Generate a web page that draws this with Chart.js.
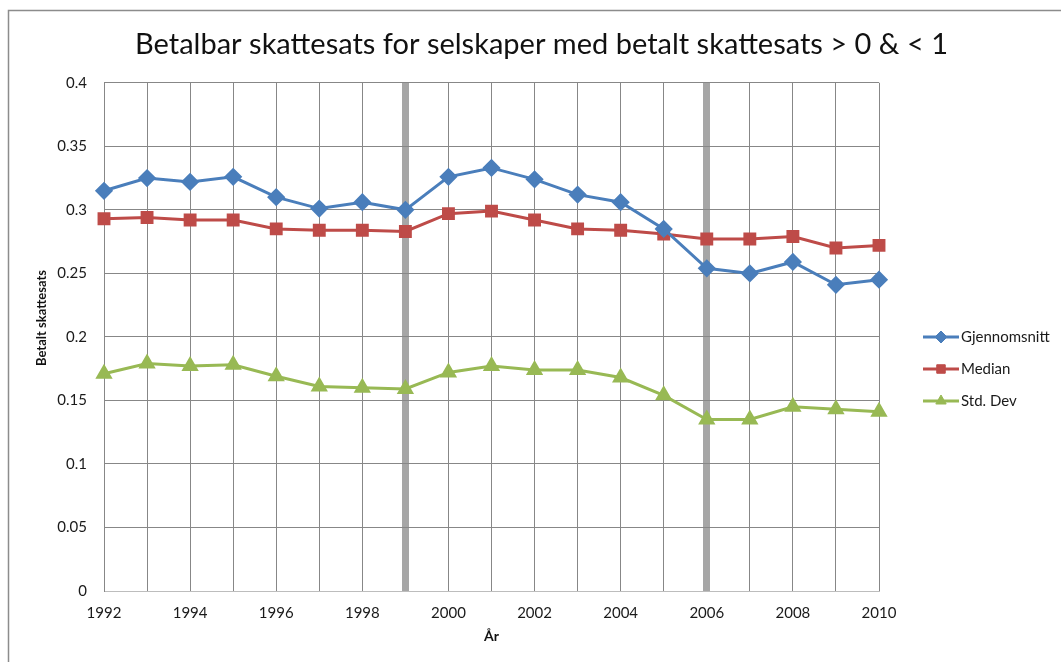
<!DOCTYPE html>
<html>
<head>
<meta charset="utf-8">
<script src="https://cdn.jsdelivr.net/npm/chart.js@4"></script>
<style>
  html, body { margin: 0; padding: 0; background: #fff; }
  #wrap { width: 1061px; height: 662px; position: relative; }
</style>
</head>
<body>
<div id="wrap"><canvas id="taxChart"></canvas></div>
<script>
const years = ['1992','1993','1994','1995','1996','1997','1998','1999','2000','2001',
               '2002','2003','2004','2005','2006','2007','2008','2009','2010'];
const gjennomsnitt = [0.315,0.325,0.322,0.326,0.310,0.301,0.306,0.300,0.326,0.333,
                      0.324,0.312,0.306,0.285,0.254,0.250,0.259,0.241,0.245];
const median = [0.293,0.294,0.292,0.292,0.285,0.284,0.284,0.283,0.297,0.299,
                0.292,0.285,0.284,0.281,0.277,0.277,0.279,0.270,0.272];
const stdDev = [0.171,0.179,0.177,0.178,0.169,0.161,0.160,0.159,0.172,0.177,
                0.174,0.174,0.168,0.154,0.135,0.135,0.145,0.143,0.141];
const markedYears = ['1999','2006'];
const yTicks = [0,0.05,0.1,0.15,0.2,0.25,0.3,0.35,0.4];
const yTitle = 'Betalt skattesats';

const font = 'Lato, "Open Sans", sans-serif';
const gridGray = '#878787';

// outer frame, y title and a legend drawn like the spreadsheet one (line + marker)
const framePlugin = {
  id: 'frame',
  beforeDraw(chart) {
    const c = chart.ctx;
    c.save();
    c.strokeStyle = '#8c8c8c';
    c.lineWidth = 1.5;
    c.strokeRect(8.5, 10.5, 1200, 800);
    c.restore();
  },
  afterDraw(chart) {
    const c = chart.ctx;
    c.save();
    c.translate(42, 318);
    c.rotate(-Math.PI / 2);
    c.fillStyle = '#111';
    c.font = 'bold 13px ' + font;
    c.textAlign = 'center';
    c.textBaseline = 'middle';
    c.fillText(yTitle, 0, 0);
    c.restore();
  }
};

const sideLegend = {
  id: 'sideLegend',
  afterDraw(chart) {
    const c = chart.ctx;
    const rows = [337, 369, 401];
    c.save();
    chart.data.datasets.forEach((ds, i) => {
      const y = rows[i];
      c.strokeStyle = ds.borderColor;
      c.fillStyle = ds.borderColor;
      c.lineWidth = 3;
      c.beginPath();
      c.moveTo(923, y);
      c.lineTo(959, y);
      c.stroke();
      c.lineWidth = 1;
      Chart.helpers.drawPoint(c, {
        pointStyle: ds.pointStyle,
        radius: ds.pointRadius - 1,
        borderWidth: 1,
        rotation: 0
      }, 941, y);
      c.fillStyle = '#1a1a1a';
      c.font = '15px ' + font;
      c.textBaseline = 'middle';
      c.fillText(ds.label, 961, y);
    });
    c.restore();
  }
};

function series(label, data, color, style, r) {
  return {
    label: label,
    data: data,
    borderColor: color,
    backgroundColor: color,
    pointBackgroundColor: color,
    pointBorderColor: color,
    pointStyle: style,
    pointRadius: r,
    pointHoverRadius: r,
    borderWidth: 3,
    tension: 0,
    fill: false,
    yAxisID: 'y'
  };
}

const ctx = document.getElementById('taxChart');
new Chart(ctx, {
  type: 'line',
  data: {
    labels: years,
    datasets: [
      series('Gjennomsnitt', gjennomsnitt, '#4a7ebb', 'rectRot', 7),
      series('Median', median, '#be4b48', 'rect', 7),
      series('Std. Dev', stdDev, '#98b954', 'triangle', 7)
    ]
  },
  options: {
    responsive: true,
    maintainAspectRatio: false,
    animation: false,
    layout: { padding: { left: 22, right: 0, top: 0, bottom: 0 } },
    plugins: {
      legend: { display: false },
      tooltip: { enabled: false },
      title: {
        display: true,
        text: 'Betalbar skattesats for selskaper med betalt skattesats > 0 & < 1',
        color: '#111',
        font: { family: font, size: 29, weight: 'normal', lineHeight: 1.2 },
        padding: { top: 27, bottom: 21 }
      }
    },
    scales: {
      x: {
        offset: false,
        grid: {
          drawTicks: false,
          color: c => markedYears.includes(years[c.index]) ? '#a6a6a6' : gridGray,
          lineWidth: c => markedYears.includes(years[c.index]) ? 7 : 1
        },
        border: { color: '#bdbdbd', width: 1 },
        ticks: {
          autoSkip: false,
          maxRotation: 0,
          padding: 13,
          color: '#1a1a1a',
          font: { family: font, size: 15 },
          callback: (v, i) => i % 2 === 0 ? years[i] : ''
        },
        title: {
          display: true,
          text: 'År',
          color: '#111',
          font: { family: font, size: 14, weight: 'bold' },
          padding: { top: 6, bottom: 17 }
        },
        afterFit: s => { s.height = 71; }
      },
      y: {
        min: 0,
        max: 0.4,
        afterBuildTicks: s => { s.ticks = yTicks.map(v => ({ value: v })); },
        grid: { drawTicks: false, color: gridGray, lineWidth: 1 },
        border: { color: gridGray, width: 1 },
        ticks: {
          padding: 17,
          color: '#1a1a1a',
          font: { family: font, size: 15 },
          callback: v => String(+v.toFixed(2))
        },
        afterFit: s => { s.width = 82; }
      },
      // empty right-hand axis that reserves the legend's room
      side: {
        position: 'right',
        display: true,
        grid: { display: false, drawTicks: false },
        border: { display: false },
        ticks: { display: false },
        afterFit: s => { s.width = 182; }
      }
    }
  },
  plugins: [framePlugin, sideLegend]
});
</script>
</body>
</html>
